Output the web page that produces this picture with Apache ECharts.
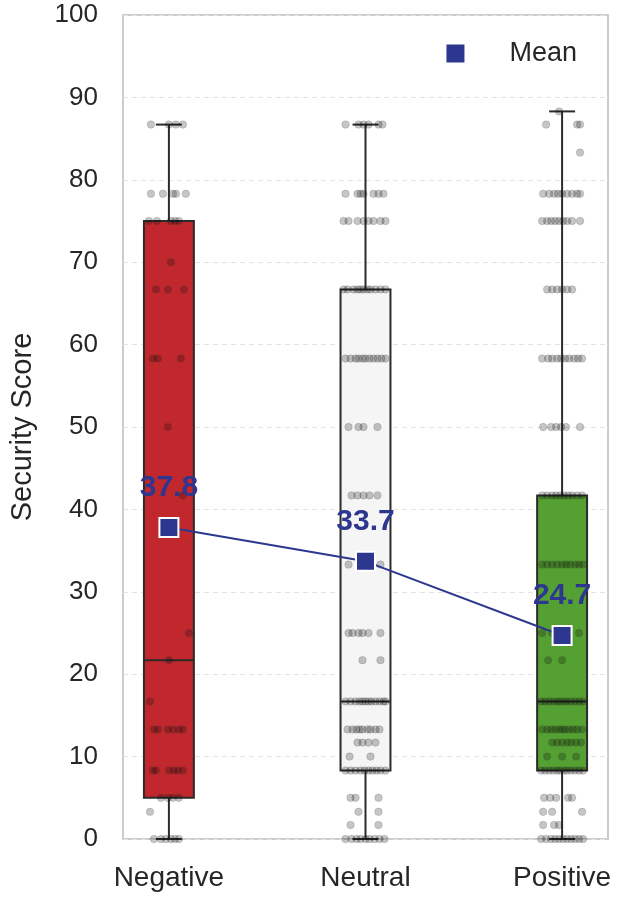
<!DOCTYPE html>
<html><head><meta charset="utf-8">
<script src="https://cdn.jsdelivr.net/npm/echarts@6/dist/echarts.min.js"></script>
<style>html,body{margin:0;padding:0;background:#fff}#c{width:618px;height:904px}</style>
</head><body><div id="c"></div>
<script>
const categories = ['Negative', 'Neutral', 'Positive'];
const yTicks = [0,10,20,30,40,50,60,70,80,90,100];
// box stats: [low whisker, Q1, median, Q3, high whisker]
const negBox = [0, 5, 21.7, 75, 86.7];
const neuBox = [0, 8.3, 16.7, 66.7, 86.7];
const posBox = [0, 8.3, 16.7, 41.7, 88.3];
const means = [37.8, 33.7, 24.7];
const boxColors = ['#C0282D', '#F5F5F5', '#55A032'];

// strip points: [score, jitter offset in px-ish units (/197 -> category units)]
const negPoints = [
 [86.7,-18],[86.7,0],[86.7,7],[86.7,14],
 [78.3,-18],[78.3,-6],[78.3,4],[78.3,7],[78.3,17],
 [75,-20],[75,-12],[75,2],[75,6],[75,10],
 [70,2],
 [66.7,-13],[66.7,-1],[66.7,15],
 [58.3,-16],[58.3,-11],[58.3,12],
 [50,-1],[41.7,14],[25,20],[21.7,0],[16.7,-19],
 [13.3,-15],[13.3,-11],[13.3,-1],[13.3,4],[13.3,10],[13.3,14],
 [8.3,-16],[8.3,-13],[8.3,0],[8.3,5],[8.3,9],[8.3,14],
 [5,-8],[5,-1],[5,4],[5,10],
 [3.3,-19],
 [0,-15],[0,-8],[0,-3],[0,2],[0,6],[0,10]
];
const neuPoints = [
 [86.7,-20],[86.7,-7],[86.7,-2],[86.7,3],[86.7,13],[86.7,17],
 [78.3,-20],[78.3,-8],[78.3,-5],[78.3,-2],[78.3,8],[78.3,13],[78.3,18],
 [75,-22],[75,-17],[75,-8],[75,-2],[75,3],[75,8],[75,15],[75,20],
 [66.7,-22],[66.7,-18],[66.7,-12],[66.7,-8],[66.7,-5],[66.7,-2],[66.7,2],[66.7,5],[66.7,10],[66.7,15],[66.7,20],
 [58.3,-20],[58.3,-15],[58.3,-10],[58.3,-7],[58.3,-3],[58.3,0],[58.3,4],[58.3,8],[58.3,12],[58.3,16],[58.3,20],
 [50,-17],[50,-7],[50,-2],[50,12],
 [41.7,-14],[41.7,-8],[41.7,-2],[41.7,4],[41.7,12],
 [33.3,-17],[33.3,15],
 [25,-17],[25,-13],[25,-7],[25,-3],[25,3],[25,15],
 [21.7,-3],[21.7,15],
 [16.7,-20],[16.7,-15],[16.7,-10],[16.7,-6],[16.7,-3],[16.7,0],[16.7,3],[16.7,6],[16.7,10],[16.7,14],[16.7,18],[16.7,20],
 [13.3,-18],[13.3,-13],[13.3,-9],[13.3,-6],[13.3,-3],[13.3,2],[13.3,5],[13.3,10],[13.3,14],
 [11.7,-8],[11.7,-3],[11.7,3],[11.7,10],
 [10,-16],[10,5],
 [8.3,-20],[8.3,-15],[8.3,-10],[8.3,-5],[8.3,-1],[8.3,3],[8.3,7],[8.3,11],[8.3,15],[8.3,20],
 [5,-15],[5,-10],[5,13],
 [3.3,-7],[3.3,13],
 [1.7,-15],[1.7,13],
 [0,-20],[0,-14],[0,-9],[0,-5],[0,0],[0,4],[0,9],[0,14],[0,19]
];
const posPoints = [
 [88.3,-3],
 [86.7,-16],[86.7,15],[86.7,18],
 [83.3,18],
 [78.3,-19],[78.3,-13],[78.3,-8],[78.3,-4],[78.3,0],[78.3,5],[78.3,10],[78.3,15],[78.3,18],
 [75,-20],[75,-15],[75,-11],[75,-7],[75,-3],[75,1],[75,5],[75,10],[75,18],
 [66.7,-15],[66.7,-10],[66.7,-5],[66.7,0],[66.7,5],[66.7,10],
 [58.3,-20],[58.3,-14],[58.3,-10],[58.3,-5],[58.3,-1],[58.3,3],[58.3,7],[58.3,12],[58.3,16],[58.3,20],
 [50,-19],[50,-11],[50,-6],[50,-1],[50,4],[50,18],
 [41.7,-20],[41.7,-15],[41.7,-10],[41.7,-6],[41.7,-2],[41.7,2],[41.7,6],[41.7,10],[41.7,15],[41.7,20],
 [33.3,-20],[33.3,-15],[33.3,-10],[33.3,-5],[33.3,0],[33.3,4],[33.3,8],[33.3,13],[33.3,17],[33.3,21],
 [25,-20],[25,-10],[25,5],[25,17],
 [21.7,-14],[21.7,0],
 [16.7,-21],[16.7,-17],[16.7,-13],[16.7,-9],[16.7,-5],[16.7,-2],[16.7,2],[16.7,5],[16.7,9],[16.7,13],[16.7,17],[16.7,21],
 [13.3,-20],[13.3,-15],[13.3,-11],[13.3,-7],[13.3,-3],[13.3,0],[13.3,3],[13.3,7],[13.3,11],[13.3,15],[13.3,20],
 [11.7,-10],[11.7,-5],[11.7,0],[11.7,5],[11.7,9],[11.7,14],[11.7,19],
 [10,-15],[10,0],[10,14],
 [8.3,-21],[8.3,-17],[8.3,-13],[8.3,-9],[8.3,-5],[8.3,-2],[8.3,2],[8.3,5],[8.3,9],[8.3,13],[8.3,17],[8.3,21],
 [5,-18],[5,-12],[5,-6],[5,6],[5,10],
 [3.3,-19],[3.3,-10],[3.3,20],
 [1.7,-19],[1.7,-8],[1.7,-3],
 [0,-21],[0,-16],[0,-11],[0,-7],[0,-3],[0,1],[0,5],[0,9],[0,13],[0,17],[0,21]
];

const boxes = [negBox, neuBox, posBox];
const pointSets = [negPoints, neuPoints, posPoints];
const jitterScale = 1/197;
const boxWidthUnits = 0.254;
const meanColor = '#2D3790';
const FONT = '"Liberation Sans", Arial, sans-serif';

const boxData = boxes.map((b, i) => [i].concat(b));
const stripData = [];
pointSets.forEach((pts, i) => pts.forEach(p => stripData.push([i + p[1]*jitterScale, p[0]])));
const meanData = means.map((m, i) => [i, m]);

const chart = echarts.init(document.getElementById('c'), null, {renderer: 'canvas'});
chart.setOption({
  backgroundColor: '#fff',
  animation: false,
  textStyle: {fontFamily: FONT},
  grid: {left: 122, right: 10, top: 15, bottom: 65, show: true, borderColor: '#CCCCCC', borderWidth: 2, backgroundColor: 'transparent'},
  legend: {
    right: 36, top: 35, itemWidth: 18, itemHeight: 18,
    data: [{name: 'Mean', icon: 'rect', itemStyle: {color: meanColor, borderWidth: 0}}],
    textStyle: {fontSize: 27, color: '#262626', fontFamily: FONT, padding: [0,0,0,40]}
  },
  xAxis: {
    type: 'value', min: -0.2335, max: 2.2335,
    axisLine: {show: false}, axisTick: {show: false}, splitLine: {show: false},
    axisLabel: {customValues: [0,1,2], formatter: v => categories[Math.round(v)], fontSize: 28, color: '#262626', margin: 25, fontFamily: FONT}
  },
  yAxis: {
    type: 'value', min: 0, max: 100, interval: 10,
    name: 'Security Score', nameLocation: 'middle', nameGap: 86, nameRotate: 90,
    nameTextStyle: {fontSize: 29, color: '#262626', fontFamily: FONT},
    axisLine: {show: false}, axisTick: {show: false},
    axisLabel: {fontSize: 26, color: '#262626', margin: 25, fontFamily: FONT},
    splitLine: {show: true, lineStyle: {color: '#E3E3E3', width: 1, type: [5, 4]}}
  },
  series: [
    {
      type: 'custom', name: 'box', z: 2, silent: true,
      data: boxData,
      encode: {x: 0, y: [1,2,3,4,5]},
      renderItem: function (params, api) {
        const x = api.value(0);
        const lo = api.coord([x, api.value(1)]);
        const q1 = api.coord([x, api.value(2)]);
        const md = api.coord([x, api.value(3)]);
        const q3 = api.coord([x, api.value(4)]);
        const hi = api.coord([x, api.value(5)]);
        const bw = api.size([boxWidthUnits, 0])[0];
        const cw = bw * 0.52;
        const cx = lo[0];
        const ls = {stroke: '#2B2B2B', lineWidth: 2};
        return {type: 'group', children: [
          {type: 'line', shape: {x1: cx, y1: q3[1], x2: cx, y2: hi[1]}, style: ls},
          {type: 'line', shape: {x1: cx, y1: q1[1], x2: cx, y2: lo[1]}, style: ls},
          {type: 'line', shape: {x1: cx - cw/2, y1: hi[1], x2: cx + cw/2, y2: hi[1]}, style: ls},
          {type: 'line', shape: {x1: cx - cw/2, y1: lo[1], x2: cx + cw/2, y2: lo[1]}, style: ls},
          {type: 'rect', shape: {x: cx - bw/2, y: q3[1], width: bw, height: q1[1] - q3[1]},
            style: {fill: boxColors[params.dataIndex], stroke: '#2B2B2B', lineWidth: 2}},
          {type: 'line', shape: {x1: cx - bw/2, y1: md[1], x2: cx + bw/2, y2: md[1]}, style: ls}
        ]};
      }
    },
    {
      type: 'scatter', name: 'points', z: 3, silent: true,
      data: stripData, symbol: 'circle', symbolSize: 7.5,
      itemStyle: {color: 'rgba(0,0,0,0.28)', borderColor: 'rgba(60,60,60,0.3)', borderWidth: 0.8}
    },
    {
      type: 'line', name: 'Mean', z: 5, data: meanData,
      symbol: 'rect', symbolSize: 19,
      lineStyle: {color: meanColor, width: 2},
      itemStyle: {color: meanColor, borderColor: '#fff', borderWidth: 2},
      label: {show: true, position: 'top', distance: 14, formatter: p => p.value[1].toFixed(1),
        fontSize: 30, fontWeight: 'bold', color: meanColor, fontFamily: FONT}
    }
  ]
});
</script></body></html>
